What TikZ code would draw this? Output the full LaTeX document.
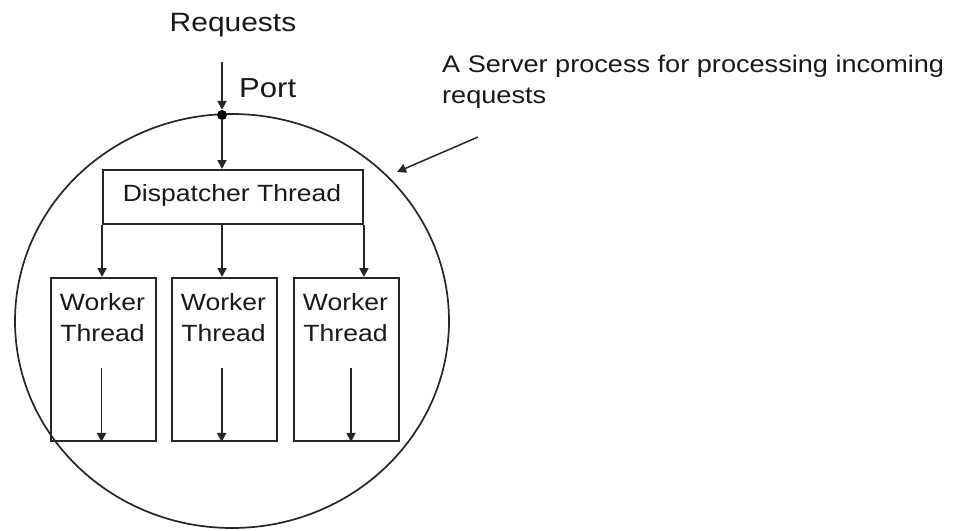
\documentclass[tikz,border=0pt]{standalone}
\usepackage{fontspec}
\setmainfont{Liberation Sans}[FakeStretch=1.13]
\usetikzlibrary{arrows.meta,shapes.geometric}
\begin{document}
\begin{tikzpicture}[x=1pt,y=-1pt,
  line/.style={line width=1.9pt, draw=black!85},
  flow/.style={line, -{Triangle[length=9pt,width=9pt]}},
  box/.style={line, rectangle, inner sep=0pt, anchor=north west},
  lbl/.style={inner sep=0pt, anchor=base, text=black!90, font=\fontsize{23.5}{28}\selectfont},
]
\useasboundingbox (0,0) rectangle (955,530);

% the server process
\node[draw=black!85, line width=1.7pt, ellipse, inner sep=0pt,
      minimum width=434pt, minimum height=414pt] (proc) at (232,321) {};

% dispatcher
\node[box, minimum width=260pt, minimum height=54pt] (disp) at (102,169) {};
\node[lbl] (disptext) at (232,201.7) {Dispatcher Thread};

% workers
\node[box, minimum width=105pt, minimum height=163pt] (w1) at (50,277) {};
\node[box, minimum width=105pt, minimum height=163pt] (w2) at (171,277) {};
\node[box, minimum width=105pt, minimum height=163pt] (w3) at (293,277) {};
\foreach \n/\x in {1/102.5,2/223.5,3/345.5}{
  \node[lbl] (w\n top) at (\x,310) {Worker};
  \node[lbl] (w\n bot) at (\x,341.7) {Thread};
}

% port and incoming requests
\node[circle, fill=black, inner sep=0pt, minimum size=10pt] (port) at (222,115) {};
\coordinate (reqtop) at (222,62);
\draw[flow] (reqtop) -- (port.north);
\draw[flow] (port) -- (port |- disp.north);

% dispatch to workers
\draw[flow] (disp.south west) -- (disp.south west |- w1.north);
\draw[flow] (port |- disp.south) -- (port |- w2.north);
\draw[flow] (disp.south east) -- (disp.south east |- w3.north);

% work inside each worker
\coordinate (w1a) at (101.5,368);
\coordinate (w2a) at (221.7,368);
\coordinate (w3a) at (351,368);
\draw[flow] (w1a) -- (w1a |- w1.south);
\draw[flow] (w2a) -- (w2a |- w2.south);
\draw[flow] (w3a) -- (w3a |- w3.south);

% labels
\node[lbl, font=\fontsize{26.5}{30}\selectfont] (req) at (233,31.7) {Requests};
\node[lbl, anchor=base west, font=\fontsize{27.5}{30}\selectfont] (portlbl) at (239,97.7) {Port};
\node[lbl, anchor=base west, font=\fontsize{24}{30}\selectfont] (note1) at (442,72.3) {A Server process for processing incoming};
\node[lbl, anchor=base west, font=\fontsize{24}{30}\selectfont] (note2) at (442,103.3) {requests};

% annotation pointer
\coordinate (notetail) at (478,137);
\coordinate (notehead) at (397,172);
\draw[flow, line width=1.5pt] (notetail) -- (notehead);
\end{tikzpicture}
\end{document}
